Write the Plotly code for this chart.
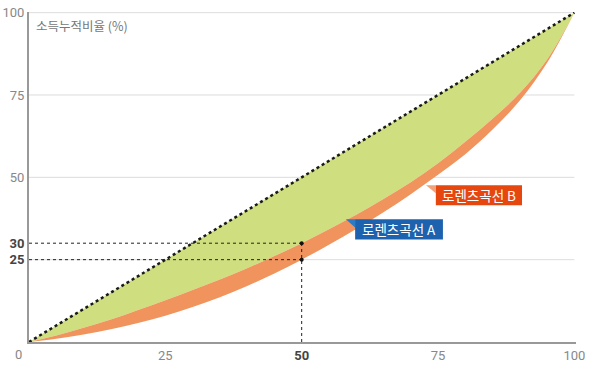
import plotly.graph_objects as go

# Data
pop_pct = [0, 5, 10, 15, 20, 25, 30, 35, 40, 45, 50, 55, 60, 65, 70, 75, 80, 85, 90, 95, 100]
lorenz_b = [0, 2.0, 4.3, 6.8, 9.7, 12.7, 15.8, 19.0, 22.4, 26.1, 30.0, 34.2, 38.6, 43.4, 48.5,
            54.3, 60.8, 67.8, 75.6, 85.8, 100]
lorenz_a = [0, 1.0, 2.3, 3.9, 5.8, 8.0, 10.6, 13.6, 17.0, 20.8, 25.0, 29.5, 34.3, 39.4, 44.9,
            50.8, 57.0, 64.5, 73.3, 84.8, 100]
equality = pop_pct

x_ticks = [25, 50, 75, 100]
x_ticktext = ["25", "<b><span style='color:#444'>50</span></b>", "75", "100"]
y_ticks = [25, 30, 50, 75, 100]
y_ticktext = ["<b><span style='color:#444'>25</span></b>", "<b><span style='color:#444'>30</span></b>", "50", "75", "100"]
grid_vals = [25, 50, 75, 100]

mark_x = 50
mark_y = [30, 25]

label_b = "로렌츠곡선 B"
label_a = "로렌츠곡선 A"

GREEN = "#CFDF80"
ORANGE = "#F0935C"
RED = "#E5470F"
BLUE = "#1D62AE"
FONT = "Roboto, 'Noto Sans CJK KR', sans-serif"
KFONT = "'Noto Sans CJK KR', sans-serif"

fig = go.Figure()
fig.add_trace(go.Scatter(x=pop_pct, y=equality, mode="lines", line=dict(width=0, color=GREEN),
                         hoverinfo="skip", showlegend=False))
fig.add_trace(go.Scatter(x=pop_pct, y=lorenz_b, mode="lines", line=dict(width=0, color=GREEN, shape="spline", smoothing=1),
                         fill="tonexty", fillcolor=GREEN, showlegend=False))
fig.add_trace(go.Scatter(x=pop_pct, y=lorenz_a, mode="lines", line=dict(width=0, color=ORANGE, shape="spline", smoothing=1),
                         fill="tonexty", fillcolor=ORANGE, showlegend=False))

# Dashed guide lines
for yv in mark_y:
    fig.add_trace(go.Scatter(x=[0, mark_x], y=[yv, yv], mode="lines",
                             line=dict(color="#222", width=1, dash="dot"), showlegend=False))
fig.add_trace(go.Scatter(x=[mark_x, mark_x], y=[0, max(mark_y)], mode="lines",
                         line=dict(color="#222", width=1, dash="dot"), showlegend=False))
fig.add_trace(go.Scatter(x=[mark_x] * len(mark_y), y=mark_y, mode="markers",
                         marker=dict(color="#111", size=4), showlegend=False))

# Equality diagonal
fig.add_trace(go.Scatter(x=pop_pct, y=equality, mode="lines",
                         line=dict(color="#1a1a1a", width=2.5, dash="dot"), showlegend=False))

# Horizontal grid lines
for g in grid_vals:
    fig.add_shape(type="line", x0=0, x1=100, y0=g, y1=g, xref="x", yref="y",
                  line=dict(color="#DDDDDD", width=1), layer="below")

# Label boxes with pointer flags
def flag(x0, x1, y0, y1, tipx, tipy_low, color, tipcolor, text):
    fig.add_shape(type="path", xref="x", yref="y",
                  path=f"M {tipx},{y1} L {x0},{y1} L {x0},{tipy_low} Z",
                  fillcolor=tipcolor, line=dict(width=0))
    fig.add_shape(type="rect", xref="x", yref="y", x0=x0, x1=x1, y0=y0, y1=y1,
                  fillcolor=color, line=dict(width=0))
    fig.add_annotation(x=(x0 + x1) / 2, y=(y0 + y1) / 2, text=text, showarrow=False,
                       font=dict(family=KFONT, size=13.5, color="white"))

flag(74.6, 90.4, 41.5, 47.6, 72.8, 45.2, RED, "#F1A27A", label_b)
flag(59.8, 75.9, 31.1, 37.3, 58.1, 34.8, BLUE, "#2C7BC4", label_a)

# Axis titles
fig.add_annotation(x=0.01, y=96.2, xref="paper", yref="y", text="소득누적비율 (%)", showarrow=False,
                   xanchor="left", yanchor="middle", font=dict(family=KFONT, size=12.5, color="#777"))
fig.add_annotation(x=100.5, y=0, xref="x", yref="y", text="인구누적비율 (%)", showarrow=False,
                   xanchor="right", yanchor="bottom", yshift=2, font=dict(family=KFONT, size=12.5, color="#777"))
fig.add_annotation(x=0, y=0, xref="x", yref="y", text="0", showarrow=False,
                   xanchor="center", yanchor="top", xshift=-11, yshift=-3,
                   font=dict(family=FONT, size=13, color="#888"))

fig.update_layout(
    width=592, height=369,
    margin=dict(l=29, r=16, t=12, b=27, autoexpand=False),
    plot_bgcolor="white", paper_bgcolor="white",
    xaxis=dict(range=[0, 100.3], tickvals=x_ticks, ticktext=x_ticktext, showgrid=False, zeroline=False,
               showline=True, linecolor="#999", linewidth=2, ticks="", ticklabelstandoff=0, automargin=False,
               ticklabeloverflow="allow",
               tickfont=dict(family=FONT, size=13, color="#888"), fixedrange=True),
    yaxis=dict(range=[0, 100.2], tickvals=y_ticks, ticktext=y_ticktext, showgrid=False, zeroline=False,
               showline=True, linecolor="#999", linewidth=2, ticks="", ticklabelstandoff=0, automargin=False,
               ticklabeloverflow="allow",
               tickfont=dict(family=FONT, size=13, color="#888"), fixedrange=True),
    showlegend=False,
)

# Remove the default page margin so the figure fills the window exactly
fig.write_html("out.html", config={"displayModeBar": False},
               post_script="document.body.style.margin='0';")
